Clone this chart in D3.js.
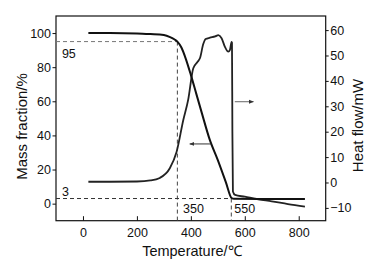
<!DOCTYPE html>
<html>
<head>
<meta charset="utf-8">
<script src="https://cdn.jsdelivr.net/npm/d3@7"></script>
<style>
  body { margin: 0; background: #fff; }
  text { font-family: "Liberation Sans", Arial, sans-serif; fill: #111; }
</style>
</head>
<body>
<div id="chart"></div>
<script>
// TG curve: temperature (°C) vs mass fraction (%)
const tgTemp = [20, 100, 200, 250, 300, 323, 340, 350, 365, 380, 400, 420, 440, 470, 500, 530, 551, 560, 700, 823];
const tgMass = [100, 100, 99.8, 99.4, 98.8, 97.6, 96.2, 95, 91.5, 85.5, 75.5, 64.5, 53.5, 37.5, 25.5, 12.5, 3.3, 2.8, 2.75, 2.7];

// DSC curve: temperature (°C) vs heat flow (mW)
const dscTemp = [20, 100, 200, 250, 285, 322, 347, 372, 390, 409, 425, 434, 446, 455, 471, 490, 502, 514, 526, 539, 545, 551, 552.5, 554, 556, 564, 600, 650, 700, 760, 823];
const dscHeat = [0.3, 0.3, 0.4, 0.8, 1.8, 5.6, 12, 24.6, 32.5, 45, 47.5, 49, 54.5, 56.5, 57, 57.5, 58, 56.8, 53.5, 51.5, 52.2, 55.4, 55, 20, -3.5, -4.9, -5.6, -6.6, -7.4, -8.5, -9.5];

const xTicks = [0, 200, 400, 600, 800];
const massTicks = [0, 20, 40, 60, 80, 100];
const heatTicks = [-10, 0, 10, 20, 30, 40, 50, 60];

const width = 377, height = 263;
const margin = {left: 56, top: 16, right: 51.3, bottom: 42.3};

const svg = d3.select("#chart")
  .append("svg")
  .attr("width", width)
  .attr("height", height);

const x = d3.scaleLinear().domain([-100, 900]).range([margin.left, width - margin.right]);
const yMass = d3.scaleLinear().domain([-10, 110]).range([height - margin.bottom, margin.top]);
const yHeat = d3.scaleLinear().domain([-15.04, 65.55]).range([height - margin.bottom, margin.top]);

// axes
const gx = svg.append("g")
  .attr("transform", `translate(0,${height - margin.bottom})`)
  .call(d3.axisBottom(x).tickValues(xTicks).tickSize(-4.5).tickPadding(7.5));
const gl = svg.append("g")
  .attr("transform", `translate(${margin.left},0)`)
  .call(d3.axisLeft(yMass).tickValues(massTicks).tickSize(3.5).tickPadding(1.5));
const gr = svg.append("g")
  .attr("transform", `translate(${width - margin.right},0)`)
  .call(d3.axisRight(yHeat).tickValues(heatTicks).tickSize(3).tickPadding(1.5));

[gx, gl, gr].forEach(g => {
  g.select(".domain").remove();
  g.selectAll("text").style("font-size", "12.5px").attr("fill", "#111");
  g.selectAll("line").attr("stroke", "#111");
});

// frame
svg.append("rect")
  .attr("x", margin.left)
  .attr("y", margin.top)
  .attr("width", width - margin.left - margin.right)
  .attr("height", height - margin.top - margin.bottom)
  .attr("fill", "none")
  .attr("stroke", "#111")
  .attr("stroke-width", 1.2);

// dashed guide lines
const guide = (x1, y1, x2, y2, col) => svg.append("line")
  .attr("x1", x1).attr("y1", y1).attr("x2", x2).attr("y2", y2)
  .attr("stroke", col).attr("stroke-width", 1).attr("stroke-dasharray", "4,3");

guide(x(-100), yMass(95), x(350), yMass(95), "#777");
guide(x(350), yMass(95), x(350), yMass(-10), "#444");
guide(x(-100), yMass(3), x(550), yMass(3), "#333");
guide(x(550), yMass(3), x(550), yMass(-10), "#444");

// curves
const tg = tgTemp.map((t, i) => [t, tgMass[i]]);
const dsc = dscTemp.map((t, i) => [t, dscHeat[i]]);

svg.append("path")
  .datum(dsc)
  .attr("fill", "none")
  .attr("stroke", "#222")
  .attr("stroke-width", 1.8)
  .attr("d", d3.line().x(d => x(d[0])).y(d => yHeat(d[1])).curve(d3.curveMonotoneX));

svg.append("path")
  .datum(tg)
  .attr("fill", "none")
  .attr("stroke", "#111")
  .attr("stroke-width", 2)
  .attr("d", d3.line().x(d => x(d[0])).y(d => yMass(d[1])).curve(d3.curveMonotoneX));

// arrows
svg.append("defs").append("marker")
  .attr("id", "head")
  .attr("viewBox", "0 0 10 10")
  .attr("refX", 9).attr("refY", 5)
  .attr("markerWidth", 5).attr("markerHeight", 5)
  .attr("orient", "auto")
  .append("path")
  .attr("d", "M0,1L10,5L0,9Z")
  .attr("fill", "#333");

svg.append("line")
  .attr("x1", x(476)).attr("y1", yMass(35)).attr("x2", x(396)).attr("y2", yMass(35))
  .attr("stroke", "#333").attr("stroke-width", 1).attr("marker-end", "url(#head)");
svg.append("line")
  .attr("x1", x(563)).attr("y1", yHeat(31.8)).attr("x2", x(632)).attr("y2", yHeat(31.8))
  .attr("stroke", "#666").attr("stroke-width", 1).attr("marker-end", "url(#head)");

// annotations
const note = (t, v, s) => svg.append("text")
  .attr("x", x(t)).attr("y", yMass(v))
  .style("font-size", "12.5px")
  .text(s);
note(-78, 85.4, "95");
note(-78, 4.4, "3");
note(371, -5.4, "350");
note(561, -5.4, "550");

// axis titles
svg.append("text")
  .attr("x", (margin.left + width - margin.right) / 2 + 1)
  .attr("y", 256)
  .attr("text-anchor", "middle")
  .style("font-size", "14.5px")
  .text("Temperature/℃");

svg.append("text")
  .attr("transform", `translate(26.5,${126.5}) rotate(-90)`)
  .attr("text-anchor", "middle")
  .style("font-size", "15px")
  .text("Mass fraction/%");

svg.append("text")
  .attr("transform", `translate(363,${125.5}) rotate(-90)`)
  .attr("text-anchor", "middle")
  .style("font-size", "15px")
  .text("Heat flow/mW");
</script>
</body>
</html>
